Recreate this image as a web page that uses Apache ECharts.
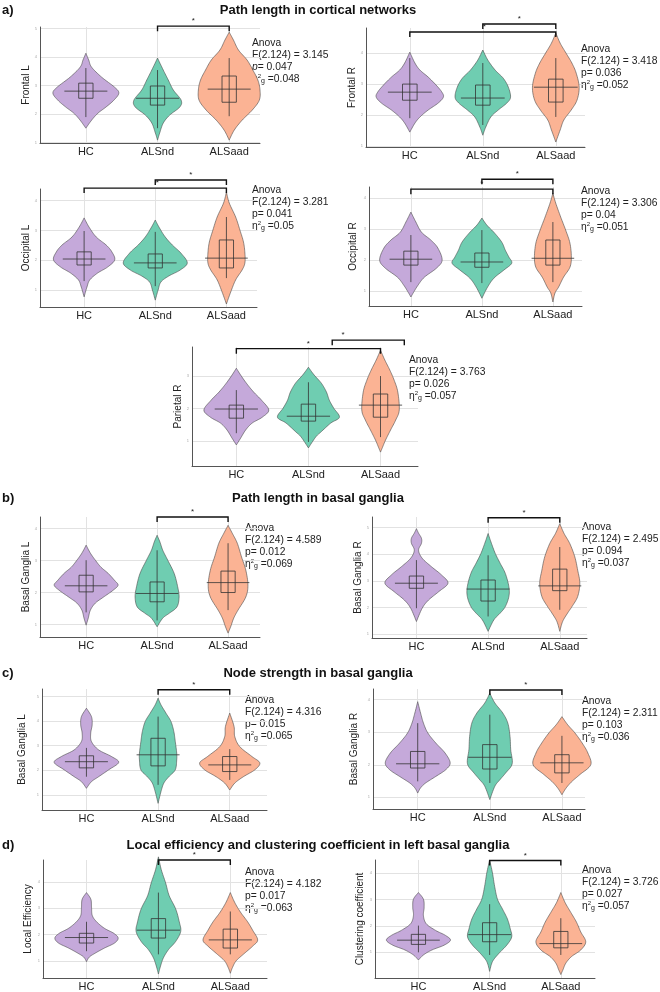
<!DOCTYPE html>
<html>
<head>
<meta charset="utf-8">
<script src="https://cdn.jsdelivr.net/npm/echarts@6/dist/echarts.min.js"></script>
<style>
  html, body { margin: 0; padding: 0; background: #fff; }
  #main { width: 660px; height: 992px; }
</style>
</head>
<body>
<div id="main"></div>
<script>
var chartDom = document.getElementById("main");
var myChart = echarts.init(chartDom);
var option;

const groups = ["HC", "ALSnd", "ALSaad"];
const colors = ["#c5a9da", "#6fcdb1", "#fbb394"];

// violin outlines: [value, half width in category units], per group HC / ALSnd / ALSaad
// boxes: [lower whisker, q1, median, q3, upper whisker]
// brackets: [from, to, height, star position]
const frontalLViolins = [
  [[1.50, 0], [1.78, 0.08], [2.03, 0.17], [2.24, 0.28], [2.48, 0.39], [2.73, 0.46], [2.94, 0.40], [3.29, 0.22], [3.64, 0.08], [3.89, 0.04], [4.13, 0]],
  [[1.08, 0], [1.33, 0.03], [1.68, 0.08], [1.96, 0.17], [2.24, 0.31], [2.48, 0.33], [2.84, 0.22], [3.19, 0.15], [3.54, 0.08], [3.96, 0]],
  [[1.08, 0], [1.43, 0.07], [1.78, 0.18], [2.13, 0.32], [2.48, 0.42], [2.84, 0.43], [3.19, 0.40], [3.54, 0.33], [3.89, 0.25], [4.24, 0.13], [4.59, 0.06], [4.87, 0]],
];
const frontalLBoxes = [[1.89, 2.55, 2.80, 3.08, 3.61], [1.50, 2.31, 2.55, 2.98, 3.54], [1.92, 2.41, 2.87, 3.33, 3.96]];
const frontalLBrackets = [[2, 3, 5.08, 2.5]];

const frontalRViolins = [
  [[1.45, 0], [1.74, 0.07], [1.94, 0.14], [2.16, 0.25], [2.39, 0.39], [2.58, 0.46], [2.74, 0.44], [2.97, 0.36], [3.23, 0.25], [3.45, 0.14], [3.68, 0.07], [4.03, 0]],
  [[1.35, 0], [1.61, 0.04], [1.94, 0.11], [2.16, 0.21], [2.39, 0.33], [2.58, 0.38], [2.90, 0.35], [3.19, 0.28], [3.45, 0.17], [3.77, 0.07], [4.10, 0]],
  [[1.13, 0], [1.52, 0.06], [1.84, 0.11], [2.16, 0.21], [2.48, 0.29], [2.90, 0.32], [3.35, 0.28], [3.68, 0.22], [4.00, 0.14], [4.32, 0.06], [4.65, 0]],
];
const frontalRBoxes = [[1.90, 2.48, 2.74, 3.00, 3.84], [1.68, 2.32, 2.55, 2.97, 3.68], [1.94, 2.42, 2.90, 3.16, 3.84]];
const frontalRBrackets = [[2, 3, 4.94, 2.5], [1, 3, 4.68, 2.02]];

const occipitalLViolins = [
  [[0.77, 0], [1.10, 0.04], [1.34, 0.08], [1.57, 0.19], [1.77, 0.33], [2.01, 0.43], [2.28, 0.39], [2.51, 0.31], [2.78, 0.17], [3.11, 0.07], [3.42, 0]],
  [[0.66, 0], [1.00, 0.04], [1.27, 0.08], [1.47, 0.19], [1.67, 0.35], [1.91, 0.45], [2.24, 0.36], [2.51, 0.24], [2.78, 0.14], [3.08, 0.06], [3.35, 0]],
  [[0.53, 0], [0.93, 0.06], [1.34, 0.13], [1.67, 0.22], [1.91, 0.26], [2.24, 0.26], [2.61, 0.24], [3.01, 0.19], [3.45, 0.13], [3.92, 0.04], [4.29, 0]],
];
const occipitalLBoxes = [[1.30, 1.84, 2.04, 2.28, 2.98], [1.13, 1.74, 1.91, 2.21, 2.95], [1.40, 1.74, 2.07, 2.68, 3.45]];
const occipitalLBrackets = [[2, 3, 4.69, 2.5], [1, 3, 4.42, 2.03]];

const occipitalRViolins = [
  [[0.80, 0], [0.96, 0.04], [1.18, 0.10], [1.44, 0.19], [1.73, 0.36], [1.99, 0.44], [2.38, 0.38], [2.64, 0.28], [2.89, 0.15], [3.22, 0.07], [3.54, 0]],
  [[0.76, 0], [1.12, 0.08], [1.41, 0.17], [1.67, 0.31], [1.89, 0.42], [2.09, 0.38], [2.31, 0.33], [2.57, 0.28], [2.86, 0.18], [3.12, 0.07], [3.35, 0]],
  [[0.64, 0], [0.93, 0.03], [1.12, 0.08], [1.44, 0.15], [1.76, 0.24], [2.09, 0.26], [2.54, 0.24], [2.96, 0.18], [3.38, 0.11], [3.83, 0.04], [4.15, 0]],
];
const occipitalRBoxes = [[1.28, 1.83, 2.02, 2.28, 2.80], [1.25, 1.76, 1.93, 2.22, 2.96], [1.28, 1.83, 2.05, 2.64, 3.22]];
const occipitalRBrackets = [[2, 3, 4.60, 2.5], [1, 3, 4.28, 2.0]];

const parietalRViolins = [
  [[0.89, 0], [1.10, 0.06], [1.35, 0.13], [1.56, 0.22], [1.74, 0.36], [1.96, 0.45], [2.26, 0.35], [2.51, 0.24], [2.78, 0.14], [3.03, 0.06], [3.24, 0]],
  [[0.80, 0], [1.13, 0.10], [1.28, 0.17], [1.56, 0.31], [1.74, 0.43], [2.02, 0.35], [2.26, 0.29], [2.51, 0.25], [2.78, 0.18], [3.03, 0.08], [3.27, 0]],
  [[0.67, 0], [0.83, 0.03], [1.04, 0.07], [1.35, 0.14], [1.65, 0.21], [1.96, 0.26], [2.51, 0.24], [2.87, 0.19], [3.18, 0.13], [3.49, 0.06], [3.79, 0]],
];
const parietalRBoxes = [[1.25, 1.71, 1.99, 2.11, 2.57], [0.98, 1.62, 1.77, 2.14, 2.81], [1.13, 1.74, 2.11, 2.45, 3.00]];
const parietalRBrackets = [[1, 3, 3.84, 2.0], [2.33, 3.33, 4.10, 2.48]];

const pathBGLViolins = [
  [[0.98, 0], [1.20, 0.03], [1.45, 0.06], [1.67, 0.13], [1.85, 0.24], [2.07, 0.38], [2.23, 0.45], [2.38, 0.40], [2.60, 0.31], [2.79, 0.21], [3.01, 0.13], [3.23, 0.06], [3.48, 0]],
  [[0.93, 0], [1.20, 0.08], [1.35, 0.17], [1.55, 0.28], [1.86, 0.31], [2.18, 0.29], [2.60, 0.24], [3.01, 0.15], [3.32, 0.08], [3.58, 0.04], [3.79, 0]],
  [[0.73, 0], [0.95, 0.04], [1.20, 0.08], [1.45, 0.14], [1.86, 0.25], [2.23, 0.28], [2.70, 0.25], [3.11, 0.19], [3.54, 0.13], [3.85, 0.06], [4.10, 0]],
];
const pathBGLBoxes = [[1.38, 2.02, 2.21, 2.54, 3.01], [1.13, 1.71, 1.97, 2.33, 3.32], [1.45, 2.00, 2.31, 2.67, 3.54]];
const pathBGLBrackets = [[2, 3, 4.36, 2.5]];

const pathBGRViolins = [
  [[1.47, 0], [1.97, 0.08], [2.28, 0.17], [2.59, 0.31], [2.91, 0.44], [3.22, 0.35], [3.53, 0.21], [3.85, 0.08], [4.15, 0.03], [4.41, 0.07], [4.60, 0.07], [4.79, 0.03], [4.96, 0]],
  [[1.10, 0], [1.53, 0.08], [1.79, 0.17], [2.03, 0.24], [2.41, 0.29], [2.78, 0.29], [3.28, 0.24], [3.65, 0.17], [4.03, 0.10], [4.46, 0.04], [4.78, 0]],
  [[1.10, 0], [1.47, 0.04], [1.79, 0.11], [2.03, 0.17], [2.41, 0.25], [2.91, 0.28], [3.40, 0.25], [3.90, 0.21], [4.40, 0.14], [4.78, 0.06], [5.15, 0]],
];
const pathBGRBoxes = [[1.97, 2.72, 2.91, 3.18, 3.78], [1.66, 2.24, 2.69, 3.03, 3.96], [1.91, 2.63, 2.81, 3.44, 4.27]];
const pathBGRBrackets = [[2, 3, 5.37, 2.5]];

const strengthLViolins = [
  [[1.27, 0], [1.54, 0.07], [1.74, 0.17], [2.02, 0.31], [2.32, 0.45], [2.56, 0.35], [2.83, 0.17], [3.17, 0.07], [3.51, 0.06], [3.85, 0.08], [4.18, 0.07], [4.52, 0]],
  [[0.66, 0], [1.13, 0.04], [1.48, 0.08], [1.74, 0.15], [2.02, 0.24], [2.42, 0.26], [2.70, 0.26], [3.17, 0.24], [3.57, 0.22], [3.98, 0.18], [4.32, 0.11], [4.66, 0.04], [4.93, 0]],
  [[1.20, 0], [1.48, 0.07], [1.74, 0.19], [2.02, 0.35], [2.30, 0.42], [2.56, 0.31], [2.96, 0.14], [3.37, 0.07], [3.78, 0.06], [4.32, 0]],
];
const strengthLBoxes = [[1.74, 2.10, 2.35, 2.59, 2.91], [1.41, 2.18, 2.63, 3.30, 4.18], [1.61, 1.95, 2.22, 2.56, 2.86]];
const strengthLBrackets = [[2, 3, 5.27, 2.5]];

const strengthRViolins = [
  [[1.13, 0], [1.29, 0.04], [1.44, 0.11], [1.64, 0.25], [1.85, 0.39], [2.06, 0.45], [2.36, 0.38], [2.67, 0.25], [2.98, 0.14], [3.28, 0.08], [3.59, 0.04], [3.94, 0]],
  [[0.93, 0], [1.34, 0.07], [1.54, 0.14], [1.75, 0.22], [2.03, 0.31], [2.46, 0.29], [2.87, 0.28], [3.28, 0.25], [3.59, 0.18], [3.90, 0.07], [4.20, 0]],
  [[1.08, 0], [1.29, 0.06], [1.49, 0.14], [1.70, 0.25], [2.00, 0.40], [2.36, 0.36], [2.67, 0.28], [2.98, 0.18], [3.23, 0.08], [3.48, 0]],
];
const strengthRBoxes = [[1.49, 1.90, 2.03, 2.41, 3.28], [1.44, 1.87, 2.23, 2.62, 3.54], [1.44, 1.75, 2.06, 2.31, 2.89]];
const strengthRBrackets = [[2, 3, 4.30, 2.5]];

const localEffViolins = [
  [[0.97, 0], [1.15, 0.04], [1.31, 0.13], [1.49, 0.25], [1.68, 0.39], [1.87, 0.44], [2.05, 0.38], [2.24, 0.25], [2.49, 0.14], [2.73, 0.08], [3.04, 0.07], [3.35, 0.06], [3.60, 0]],
  [[0.50, 0], [0.81, 0.03], [1.12, 0.07], [1.43, 0.14], [1.74, 0.24], [2.12, 0.31], [2.49, 0.29], [2.98, 0.24], [3.48, 0.15], [3.97, 0.10], [4.47, 0.04], [4.96, 0]],
  [[0.53, 0], [0.75, 0.03], [1.00, 0.08], [1.25, 0.18], [1.56, 0.31], [1.80, 0.38], [2.17, 0.31], [2.49, 0.24], [2.86, 0.14], [3.23, 0.06], [3.60, 0]],
];
const localEffBoxes = [[1.37, 1.68, 1.89, 2.05, 2.49], [1.25, 1.87, 2.17, 2.61, 3.60], [1.25, 1.49, 1.80, 2.21, 2.88]];
const localEffBrackets = [[2, 3, 4.84, 2.5]];

const clusteringViolins = [
  [[0.71, 0], [0.90, 0.07], [1.09, 0.19], [1.27, 0.36], [1.46, 0.45], [1.64, 0.38], [1.83, 0.24], [2.08, 0.11], [2.39, 0.07], [2.70, 0.08], [3.01, 0.07], [3.26, 0]],
  [[0.28, 0], [0.65, 0.04], [0.96, 0.13], [1.27, 0.24], [1.58, 0.31], [1.89, 0.29], [2.26, 0.25], [2.64, 0.18], [3.01, 0.11], [3.50, 0.07], [4.00, 0.04], [4.49, 0]],
  [[0.16, 0], [0.34, 0.03], [0.59, 0.07], [0.84, 0.15], [1.09, 0.28], [1.40, 0.35], [1.77, 0.28], [2.14, 0.22], [2.51, 0.14], [2.88, 0.06], [3.26, 0]],
];
const clusteringBoxes = [[1.00, 1.30, 1.46, 1.68, 2.01], [0.90, 1.40, 1.67, 2.12, 2.82], [0.90, 1.17, 1.33, 1.79, 2.29]];
const clusteringBrackets = [[2, 3, 4.47, 2.5]];

// y tick values per panel
const ticks5 = [1, 2, 3, 4, 5];
const ticks4 = [1, 2, 3, 4];
const ticks3 = [1, 2, 3];

// ANOVA results, panel order
const anovaF = ["3.145", "3.418", "3.281", "3.306", "3.763", "4.589", "2.495", "4.316", "2.311", "4.182", "3.726"];
const anovaP = ["0.047", "0.036", "0.041", "0.04", "0.026", "0.012", "0.094", "0.015", "0.103", "0.017", "0.027"];
const anovaEta = ["0.048", "0.052", "0.05", "0.051", "0.057", "0.069", "0.037", "0.065", "0.036", "0.063", "0.057"];

const sectionLetters = ["a)", "b)", "c)", "d)"];
const sectionTitles = [
  "Path length in cortical networks",
  "Path length in basal ganglia",
  "Node strength in basal ganglia",
  "Local efficiency and clustering coefficient in left basal ganglia",
];
const sectionY = [10, 498, 673, 845];

// layout: rect = [left, top, right, bottom] in px
const panels = [
  { name: "Frontal L", v: frontalLViolins, b: frontalLBoxes, br: frontalLBrackets, ticks: ticks5, rect: [40, 27, 260, 143], x: [0.36, 3.43], y: [0.98, 5.05], gap: 3, note: [252, 37], italicP: true },
  { name: "Frontal R", v: frontalRViolins, b: frontalRBoxes, br: frontalRBrackets, ticks: ticks4, rect: [366, 28, 585, 147], x: [0.4, 3.4], y: [0.97, 4.81], gap: 9, note: [581, 43] },
  { name: "Occipital L", v: occipitalLViolins, b: occipitalLBoxes, br: occipitalLBrackets, ticks: ticks4, rect: [40, 189, 257, 307], x: [0.38, 3.43], y: [0.43, 4.39], gap: 2, note: [252, 184] },
  { name: "Occipital R", v: occipitalRViolins, b: occipitalRBoxes, br: occipitalRBrackets, ticks: ticks4, rect: [369, 187, 582, 306], x: [0.41, 3.41], y: [0.51, 4.35], gap: 11, note: [581, 185] },
  { name: "Parietal R", v: parietalRViolins, b: parietalRBoxes, br: parietalRBrackets, ticks: ticks3, rect: [192, 347, 418, 466], x: [0.385, 3.52], y: [0.245, 3.89], gap: 2, note: [409, 354] },
  { name: "Basal Ganglia L", v: pathBGLViolins, b: pathBGLBoxes, br: pathBGLBrackets, ticks: ticks4, rect: [40, 517, 260, 637], x: [0.35, 3.45], y: [0.61, 4.36], gap: 6, note: [245, 522] },
  { name: "Basal Ganglia R", v: pathBGRViolins, b: pathBGRBoxes, br: pathBGRBrackets, ticks: ticks5, rect: [372, 517, 587, 638], x: [0.38, 3.38], y: [0.85, 5.4], gap: 8, note: [582, 521] },
  { name: "Basal Ganglia L", v: strengthLViolins, b: strengthLBoxes, br: strengthLBrackets, ticks: ticks5, rect: [42, 689, 267, 810], x: [0.38, 3.52], y: [0.39, 5.3], gap: 15, note: [245, 694] },
  { name: "Basal Ganglia R", v: strengthRViolins, b: strengthRBoxes, br: strengthRBrackets, ticks: ticks4, rect: [373, 689, 585, 809], x: [0.38, 3.32], y: [0.64, 4.33], gap: 14, note: [582, 695] },
  { name: "Local Efficiency", v: localEffViolins, b: localEffBoxes, br: localEffBrackets, ticks: ticks4, rect: [43, 860, 267, 981], x: [0.395, 3.51], y: [0.35, 4.84], gap: 10, note: [245, 866] },
  { name: "Clustering coefficient", v: clusteringViolins, b: clusteringBoxes, br: clusteringBrackets, ticks: ticks4, rect: [375, 860, 595, 980], x: [0.39, 3.48], y: [0.03, 4.49], gap: 10, note: [582, 864] },
];

const FONT = "'Liberation Sans', Arial, sans-serif";

// catmull-rom resampling, only to draw a smooth outline
function smoothProfile(prof) {
  const out = [];
  const n = prof.length;
  for (let i = 0; i < n - 1; i++) {
    const p0 = prof[Math.max(i - 1, 0)], p1 = prof[i], p2 = prof[i + 1], p3 = prof[Math.min(i + 2, n - 1)];
    for (let k = 0; k < 8; k++) {
      const t = k / 8, t2 = t * t, t3 = t2 * t;
      const f = (a, b, c, d) => 0.5 * (2 * b + (c - a) * t + (2 * a - 5 * b + 4 * c - d) * t2 + (3 * b - a - 3 * c + d) * t3);
      out.push([f(p0[0], p1[0], p2[0], p3[0]), Math.max(0, f(p0[1], p1[1], p2[1], p3[1]))]);
    }
  }
  out.push(prof[n - 1]);
  return out;
}

const grids = [], xAxes = [], yAxes = [], series = [], elements = [];

panels.forEach((p, pi) => {
  const [l, t, r, bt] = p.rect;
  grids.push({ left: l, top: t, width: r - l, height: bt - t });
  xAxes.push({
    gridIndex: pi, type: "value", min: p.x[0], max: p.x[1],
    axisLine: { show: true, onZero: false, lineStyle: { color: "#555", width: 1 } },
    axisTick: { show: false, customValues: [1, 2, 3] },
    axisLabel: { customValues: [1, 2, 3], formatter: (v) => groups[Math.round(v) - 1], fontSize: 11, color: "#222", margin: 3, fontFamily: FONT },
    splitLine: { show: true, lineStyle: { color: "#e2e2e2", width: 1 } },
  });
  yAxes.push({
    gridIndex: pi, type: "value", min: p.y[0], max: p.y[1],
    name: p.name, nameLocation: "middle", nameGap: p.gap,
    nameTextStyle: { fontSize: 10, color: "#222", fontFamily: FONT },
    axisLine: { show: true, onZero: false, lineStyle: { color: "#555", width: 1 } },
    axisTick: { show: false, customValues: p.ticks },
    axisLabel: { customValues: p.ticks, fontSize: 4, color: "#aaa", margin: 3 },
    splitLine: { show: true, lineStyle: { color: "#e2e2e2", width: 1 } },
  });

  series.push({
    type: "custom", xAxisIndex: pi, yAxisIndex: pi,
    encode: { x: 0, y: 1 },
    data: p.b.map((box, gi) => [gi + 1, box[2]]),
    renderItem: (params, api) => {
      const gi = params.dataIndex;
      const cx = gi + 1;
      const prof = smoothProfile(p.v[gi]);
      const right = prof.map((d) => api.coord([cx + d[1], d[0]]));
      const left = prof.slice().reverse().map((d) => api.coord([cx - d[1], d[0]]));
      const box = p.b[gi];
      const lo = api.coord([cx, box[0]]), hi = api.coord([cx, box[4]]);
      const q1 = api.coord([cx - 0.1, box[1]]), q3 = api.coord([cx + 0.1, box[3]]);
      const mL = api.coord([cx - 0.3, box[2]]), mR = api.coord([cx + 0.3, box[2]]);
      return {
        type: "group",
        children: [
          { type: "polygon", shape: { points: right.concat(left) }, style: { fill: colors[gi], stroke: "#4a4a4a", lineWidth: 0.6 } },
          { type: "line", shape: { x1: lo[0], y1: lo[1], x2: hi[0], y2: hi[1] }, style: { stroke: "#333", lineWidth: 0.8 } },
          { type: "rect", shape: { x: q1[0], y: q3[1], width: q3[0] - q1[0], height: q1[1] - q3[1] }, style: { fill: "rgba(0,0,0,0)", stroke: "#333", lineWidth: 0.8 } },
          { type: "line", shape: { x1: mL[0], y1: mL[1], x2: mR[0], y2: mR[1] }, style: { stroke: "#333", lineWidth: 0.8 } },
        ],
      };
    },
  });

  series.push({
    type: "custom", xAxisIndex: pi, yAxisIndex: pi,
    encode: { x: 0, y: 2 },
    data: p.br,
    z: 5,
    renderItem: (params, api) => {
      const br = p.br[params.dataIndex];
      const a = api.coord([br[0], br[2]]), c = api.coord([br[1], br[2]]), s = api.coord([br[3], br[2]]);
      return {
        type: "group",
        children: [
          { type: "polyline", shape: { points: [[a[0], a[1] + 5], [a[0], a[1]], [c[0], c[1]], [c[0], c[1] + 5]] }, style: { stroke: "#111", lineWidth: 1.4, fill: null } },
          { type: "text", x: s[0], y: s[1] - 1, style: { text: "*", fontSize: 8, fill: "#222", align: "center", verticalAlign: "bottom", fontFamily: FONT } },
        ],
      };
    },
  });

  const pLine = p.italicP ? "{it|p}= " + anovaP[pi] : "p= " + anovaP[pi];
  elements.push({
    type: "text", x: p.note[0], y: p.note[1],
    style: {
      text: "Anova\nF(2.124) = " + anovaF[pi] + "\n" + pLine + "\nη{sup|2}{sub|g} =" + anovaEta[pi],
      fontSize: 10.3, fontFamily: FONT, fill: "#222", lineHeight: 12,
      rich: {
        it: { fontSize: 10.3, fontStyle: "italic", fontFamily: FONT, lineHeight: 12 },
        sup: { fontSize: 6, fontFamily: FONT, verticalAlign: "top", lineHeight: 12 },
        sub: { fontSize: 7, fontFamily: FONT, verticalAlign: "bottom", lineHeight: 12 },
      },
    },
  });
});

sectionTitles.forEach((title, i) => {
  elements.push({ type: "text", x: 2, y: sectionY[i], style: { text: sectionLetters[i], fontSize: 13, fontWeight: "bold", fontFamily: FONT, fill: "#111", verticalAlign: "middle" } });
  elements.push({ type: "text", x: 318, y: sectionY[i], style: { text: title, fontSize: 13, fontWeight: "bold", fontFamily: FONT, fill: "#111", align: "center", verticalAlign: "middle" } });
});

option = {
  animation: false,
  backgroundColor: "#fff",
  textStyle: { fontFamily: FONT },
  grid: grids,
  xAxis: xAxes,
  yAxis: yAxes,
  series,
  graphic: { elements },
};

option && myChart.setOption(option);
</script>
</body>
</html>
